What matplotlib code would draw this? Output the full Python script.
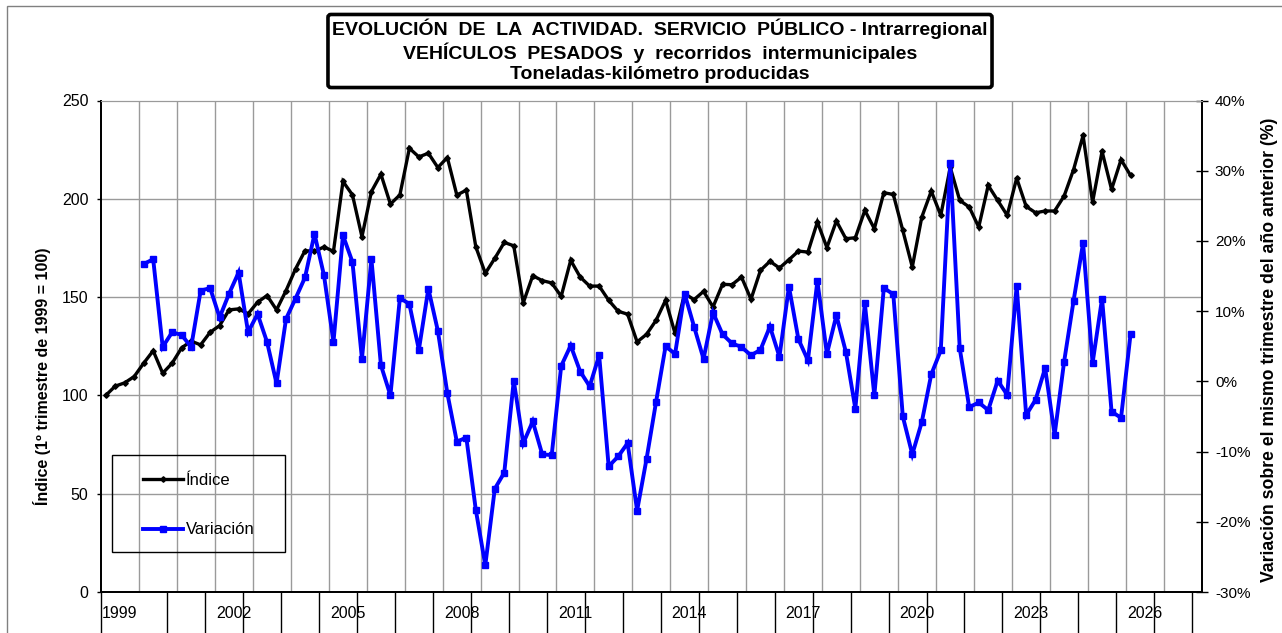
import numpy as np
import matplotlib
matplotlib.use("Agg")
import matplotlib.pyplot as plt
from matplotlib.patches import Rectangle
from matplotlib.ticker import FixedLocator, FuncFormatter

plt.rcParams['font.family'] = ['Liberation Sans', 'DejaVu Sans']

# quarterly index, 1999 Q1 = 100 (1999 Q1 .. 2026 Q1)
indice = [100, 104.7, 106.4, 109.6, 116.4, 122.7, 111.3, 116.4, 124.2, 127.6,
          125.7, 132.1, 135.5, 143.5, 144, 141.5, 147.4, 150.8, 143.5, 153.3,
          164.3, 173.6, 173.3, 175.5, 173.3, 208.8, 202, 180.7, 203.7, 212.5,
          197.3, 202, 225.7, 221.3, 223.2, 215.9, 221, 201.9, 204.4, 175.6,
          162.1, 169.7, 177.8, 176.1, 147.1, 160.9, 158.4, 157.2, 150.4, 168.7,
          160.2, 155.6, 155.6, 148.4, 142.8, 141.3, 127.2, 131.1, 138.2, 148.4,
          131.5, 151.8, 148.7, 152.9, 145, 156.5, 156.3, 160.2, 148.9, 163.6,
          168.2, 164.8, 169, 173.4, 172.9, 188.2, 175.2, 188.7, 179.7, 180.2,
          194.1, 184.8, 203.1, 202.2, 183.9, 165.3, 190.7, 203.9, 191.6, 216,
          199.2, 195.8, 185.6, 206.8, 199.2, 191.6, 210.5, 196.1, 192.9, 193.8,
          193.8, 201.4, 214.9, 232.2, 198.3, 224.1, 204.8, 219.9, 211.9]

# year-on-year change (%), from 2000 Q1
variacion = [16.7, 17.4, 4.9, 7.0, 6.6, 4.9, 12.9, 13.3, 9.1, 12.5,
             15.5, 7.0, 9.6, 5.6, -0.3, 8.9, 11.8, 14.8, 21.0, 15.1,
             5.6, 20.8, 17.0, 3.2, 17.4, 2.3, -2.0, 11.9, 11.0, 4.5,
             13.2, 7.2, -1.7, -8.6, -8.0, -18.3, -26.2, -15.3, -13.0, 0.1,
             -8.8, -5.7, -10.4, -10.5, 2.2, 5.1, 1.4, -0.7, 3.7, -12.1,
             -10.7, -8.8, -18.4, -11.0, -2.9, 5.0, 3.9, 12.5, 7.8, 3.2,
             9.8, 6.7, 5.4, 4.9, 3.7, 4.5, 7.8, 3.5, 13.5, 6.0,
             3.0, 14.3, 3.9, 9.4, 4.2, -3.9, 11.1, -2.0, 13.3, 12.4,
             -5.0, -10.4, -5.8, 1.0, 4.4, 31.1, 4.7, -3.7, -3.0, -4.1,
             0.1, -1.9, 13.6, -4.8, -2.6, 1.9, -7.6, 2.8, 11.5, 19.7,
             2.6, 11.8, -4.3, -5.2, 6.7]

year_labels = ['1999', '2002', '2005', '2008', '2011', '2014',
               '2017', '2020', '2023', '2026']
n_quarters = 116  # category slots on the axis (1999..2027)

x_ind = np.arange(len(indice)) + 0.5
x_var = np.arange(4, 4 + len(variacion)) + 0.5

W, H = 1282, 633
fig = plt.figure(figsize=(W / 100, H / 100), dpi=100)
fig.patch.set_facecolor('white')
ax = fig.add_axes([101 / W, 1 - 592 / H, 1100.7 / W, 491.5 / H])
ax2 = ax.twinx()

# grid
ax.set_xlim(0, n_quarters)
ax.set_ylim(0, 250)
ax.set_yticks([0, 50, 100, 150, 200, 250])
for v in [50, 100, 150, 200]:
    ax.axhline(v, color='#9a9a9a', lw=1, zorder=0)
for k in range(4, n_quarters, 4):
    ax.axvline(k, color='#9a9a9a', lw=1, zorder=0)

l1, = ax.plot(x_ind, indice, color='black', lw=2.4, marker='D', markersize=2.8,
              solid_joinstyle='miter', zorder=3)
l2, = ax2.plot(x_var, variacion, color='#0000FF', lw=2.8, marker='s',
               markersize=5, solid_joinstyle='miter', zorder=3)

ax2.set_ylim(-30, 40)
ax2.set_yticks(range(-30, 41, 10))
ax2.yaxis.set_major_formatter(FuncFormatter(lambda v, p: f'{v:.0f}%'))

# x axis: year labels centred on the year, tick marks on category boundaries
ax.xaxis.set_major_locator(FixedLocator([12 * i + 2 for i in range(len(year_labels))]))
ax.set_xticklabels(year_labels)
ax.xaxis.set_minor_locator(FixedLocator([0] + list(range(7, n_quarters, 4))))
ax.tick_params(axis='x', which='major', length=0, pad=10, labelsize=11.5)
ax.tick_params(axis='x', which='minor', length=30, width=1, color='black', direction='out')

ax.tick_params(axis='y', length=3, width=1, pad=6, labelsize=11.5)
ax2.tick_params(axis='y', direction='inout', length=9, width=1, pad=5, labelsize=11)

for a in (ax, ax2):
    a.spines['top'].set_color('#9a9a9a')
    a.spines['left'].set_linewidth(1.3)
    a.spines['right'].set_linewidth(1.3)
    a.spines['bottom'].set_linewidth(1.3)

fig.text(42 / W, 1 - 376 / H, 'Índice (1º trimestre de 1999 = 100)', rotation=90,
         ha='center', va='center', fontsize=11.5, fontweight='bold')
fig.text(1270 / W, 1 - 350 / H, 'Variación sobre el mismo trimestre del año anterior (%)',
         rotation=90, ha='center', va='center', fontsize=12.7, fontweight='bold')

title = ('EVOLUCIÓN  DE  LA  ACTIVIDAD.  SERVICIO  PÚBLICO - Intrarregional\n'
         'VEHÍCULOS  PESADOS  y  recorridos  intermunicipales\n'
         'Toneladas-kilómetro producidas')
fig.text(660 / W, 1 - 51 / H, title, ha='center', va='center', multialignment='center',
         fontsize=14, fontweight='bold', linespacing=1.22,
         bbox=dict(boxstyle='round,pad=0.22,rounding_size=0.15', fc='white', ec='black', lw=2.6))

# legend entries (frame drawn separately, Excel-style box)
leg = ax2.legend([l1, l2], ['Índice', 'Variación'], loc='upper left',
                 bbox_to_anchor=(143 / W, 1 - 473 / H), bbox_transform=fig.transFigure,
                 frameon=False, fontsize=12, borderpad=0, labelspacing=2.07,
                 handlelength=2.4, handletextpad=0.15, borderaxespad=0)
fig.add_artist(Rectangle((112 / W, 1 - 552 / H), 173 / W, 97 / H, transform=fig.transFigure,
                         fill=False, ec='black', lw=1, zorder=5))

# chart area border
fig.add_artist(Rectangle((7 / W, -0.1), 1.2, 1.1 - 6 / H, transform=fig.transFigure,
                         fill=False, ec='#808080', lw=1))

fig.savefig('out.png', dpi=100)
